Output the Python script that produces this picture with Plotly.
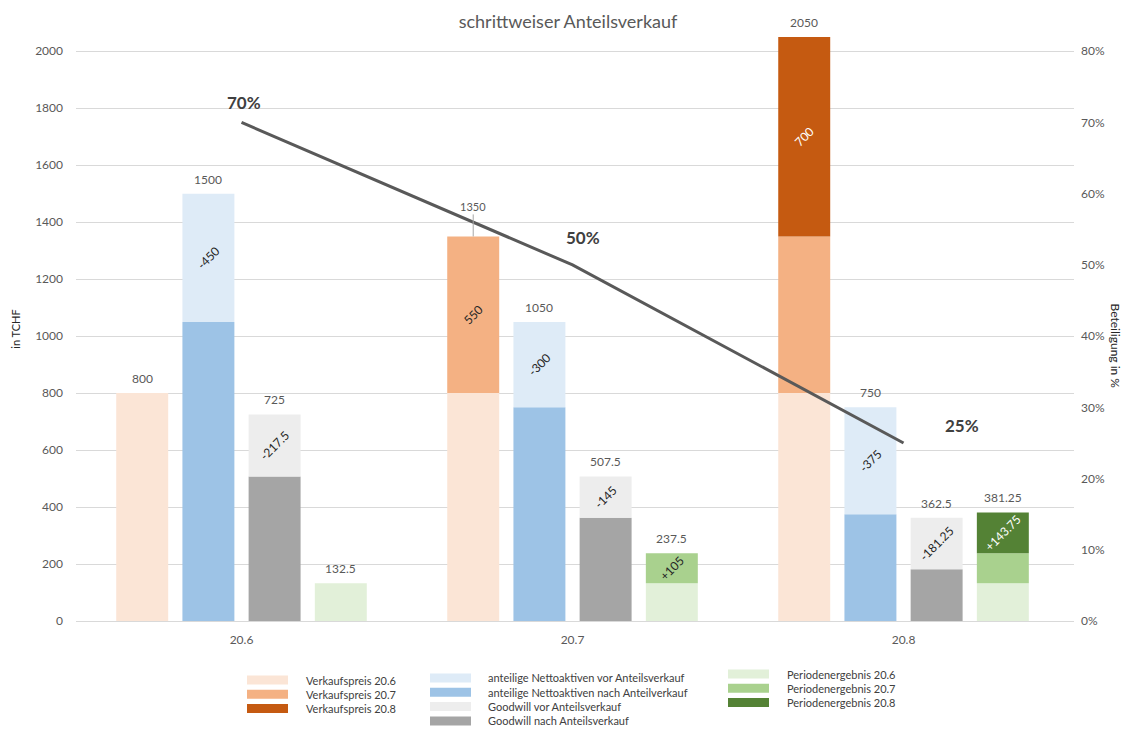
import plotly.graph_objects as go

# ---- data -------------------------------------------------------------
categories = ["20.6", "20.7", "20.8"]
verkaufspreis = [800, 550, 700]            # sale tranche realised in each period
nettoaktiven_vor = [1500, 1050, 750]       # pro-rata net assets before the sale
nettoaktiven_nach = [1050, 750, 375]       # pro-rata net assets after the sale
goodwill_vor = [725, 507.5, 362.5]
goodwill_nach = [507.5, 362.5, 181.25]
periodenergebnis = [132.5, 105, 143.75]    # period result booked in each period
beteiligung = [0.70, 0.50, 0.25]           # remaining share in %

verkauf_names = ["Verkaufspreis 20.6", "Verkaufspreis 20.7", "Verkaufspreis 20.8"]
perioden_names = ["Periodenergebnis 20.6", "Periodenergebnis 20.7", "Periodenergebnis 20.8"]
netto_names = ["anteilige Nettoaktiven vor Anteilsverkauf", "anteilige Nettoaktiven nach Anteilverkauf"]
goodwill_names = ["Goodwill vor Anteilsverkauf", "Goodwill nach Anteilsverkauf"]

# ---- styling ----------------------------------------------------------
FONT = "Lato"
TXT = "#404040"
AX = "#595959"
verkauf_colors = ["#fbe5d6", "#f4b183", "#c55a11"]
perioden_colors = ["#e2f0d9", "#a9d18e", "#548235"]
netto_colors = ["#deebf7", "#9dc3e6"]
goodwill_colors = ["#ededed", "#a5a5a5"]

W = 0.157                       # bar width in category units
CENTER = [-0.30, -0.10, 0.10, 0.30]   # bar position inside each category


def fmt(v):
    return f"{v:g}"


fig = go.Figure()


def add_bar(name, xs, ys, bases, color, pos, texts, textcolor):
    fig.add_trace(go.Bar(
        name=name, x=xs, y=ys, base=bases,
        width=W, offset=CENTER[pos] - W / 2,
        marker=dict(color=color, line=dict(width=0)),
        text=texts, textposition="inside", insidetextanchor="middle",
        textangle=-45, constraintext="none",
        textfont=dict(family=FONT, size=12, color=textcolor),
        showlegend=False, hoverinfo="x+y",
    ))


# stacked tranches: sale price and period result accumulate period by period
def cumulative(vals):
    out, s = [], 0
    for v in vals:
        out.append(s)
        s += v
    return out


vk_base = cumulative(verkaufspreis)
pe_base = cumulative(periodenergebnis)

for j in range(len(categories)):
    n = len(categories) - j
    xs = categories[j:]
    txt_vk = [fmt(verkaufspreis[j]) if (i == j and j > 0) else "" for i in range(j, len(categories))]
    add_bar(verkauf_names[j], xs, [verkaufspreis[j]] * n, [vk_base[j]] * n,
            verkauf_colors[j], 0, txt_vk, "#ffffff" if j == 2 else "#262626")
    txt_pe = [("+" + fmt(periodenergebnis[j])) if (i == j and j > 0) else "" for i in range(j, len(categories))]
    add_bar(perioden_names[j], xs, [periodenergebnis[j]] * n, [pe_base[j]] * n,
            perioden_colors[j], 3, txt_pe, "#ffffff" if j == 2 else "#262626")

# net assets: after-sale part at the bottom, reduction on top
add_bar(netto_names[1], categories, nettoaktiven_nach, [0] * 3, netto_colors[1], 1,
        [""] * 3, "#262626")
add_bar(netto_names[0], categories,
        [v - n for v, n in zip(nettoaktiven_vor, nettoaktiven_nach)], nettoaktiven_nach,
        netto_colors[0], 1,
        [fmt(n - v) for v, n in zip(nettoaktiven_vor, nettoaktiven_nach)], "#262626")

# goodwill: after-sale part at the bottom, reduction on top
add_bar(goodwill_names[1], categories, goodwill_nach, [0] * 3, goodwill_colors[1], 2,
        [""] * 3, "#262626")
add_bar(goodwill_names[0], categories,
        [v - n for v, n in zip(goodwill_vor, goodwill_nach)], goodwill_nach,
        goodwill_colors[0], 2,
        [fmt(n - v) for v, n in zip(goodwill_vor, goodwill_nach)], "#262626")

# share line on the secondary axis
fig.add_trace(go.Scatter(
    x=categories, y=beteiligung, yaxis="y2", mode="lines",
    line=dict(color=AX, width=3), showlegend=False, name="Beteiligung",
))

annotations = []

# totals above each stack
totals = [
    (0, [vk_base[i] + verkaufspreis[i] for i in range(3)]),
    (1, nettoaktiven_vor),
    (2, goodwill_vor),
    (3, [pe_base[i] + periodenergebnis[i] for i in range(3)]),
]
for pos, vals in totals:
    for i, v in enumerate(vals):
        a = dict(x=i + CENTER[pos], y=v, xref="x", yref="y", text=fmt(v),
                 font=dict(family=FONT, size=12, color=AX))
        if pos == 0 and i == 1:
            a.update(showarrow=True, ax=0, ay=-30, arrowhead=0, arrowwidth=1,
                     arrowcolor="#a6a6a6", standoff=0, font=dict(family=FONT, size=11, color=AX))
        else:
            a.update(showarrow=False, yanchor="bottom", yshift=5)
        annotations.append(a)

# share labels next to the line
label_shift = [(2, 20), (10, 27), (58, 17)]
for i, v in enumerate(beteiligung):
    annotations.append(dict(
        x=i, y=v, xref="x", yref="y2", text=f"{round(v * 100)}%", showarrow=False,
        xshift=label_shift[i][0], yshift=label_shift[i][1],
        font=dict(family=FONT, size=17, color=TXT, weight="bold"),
    ))

# right axis title, reading top to bottom
annotations.append(dict(
    x=1.051, y=0.471, xref="paper", yref="paper", text="Beteiligung in %",
    textangle=90, showarrow=False, font=dict(family=FONT, size=12, color="#262626"),
))

# ---- legend in three columns -----------------------------------------
L, T, PW, PH = 76, 37, 998, 584


def px_x(p):
    return (p - L) / PW


def px_y(p):
    return (T + PH - p) / PH


legend_cols = [
    (list(zip(verkauf_names, verkauf_colors)), 247, 304, 680),
    (list(zip(netto_names, netto_colors)) + list(zip(goodwill_names, goodwill_colors)), 430, 486, 678),
    (list(zip(perioden_names, perioden_colors)), 728, 785, 674),
]
shapes = []
for items, sx, tx, y0 in legend_cols:
    for k, (name, color) in enumerate(items):
        yc = y0 + k * 14.3
        shapes.append(dict(type="rect", xref="paper", yref="paper",
                           x0=px_x(sx), x1=px_x(sx + 41), y0=px_y(yc + 4.5), y1=px_y(yc - 4.5),
                           fillcolor=color, line=dict(width=0), layer="above"))
        annotations.append(dict(x=px_x(tx), y=px_y(yc), xref="paper", yref="paper",
                                text=name, showarrow=False, xanchor="left", yanchor="middle",
                                font=dict(family=FONT, size=11, color=TXT)))

fig.update_layout(
    width=1136, height=729,
    margin=dict(l=L, r=1136 - L - PW, t=T, b=729 - T - PH),
    paper_bgcolor="white", plot_bgcolor="white",
    barmode="overlay",
    showlegend=False,
    font=dict(family=FONT, color=AX),
    title=dict(text="schrittweiser Anteilsverkauf", x=0.5, xanchor="center",
               y=1 - 22 / 729, yanchor="middle",
               font=dict(family=FONT, size=18, color=AX)),
    xaxis=dict(type="category", range=[-0.5, 2.515], showline=True, linecolor="#d9d9d9",
               linewidth=1, ticks="", showgrid=False, ticklabelstandoff=8,
               tickfont=dict(family=FONT, size=12, color=AX)),
    yaxis=dict(range=[0, 2050], tick0=0, dtick=200, gridcolor="#d9d9d9", gridwidth=1,
               zeroline=False, showline=False, ticks="", ticklabelstandoff=12,
               tickfont=dict(family=FONT, size=12, color=AX),
               title=dict(text="in TCHF", standoff=12,
                          font=dict(family=FONT, size=11, color="#262626"))),
    yaxis2=dict(overlaying="y", side="right", range=[0, 0.82], tick0=0, dtick=0.1,
                tickformat=".0%", showgrid=False, zeroline=False, showline=False,
                ticks="", ticklabelstandoff=6,
                tickfont=dict(family=FONT, size=12, color=AX)),
    annotations=annotations,
    shapes=shapes,
)

fig.write_html("out.html")
